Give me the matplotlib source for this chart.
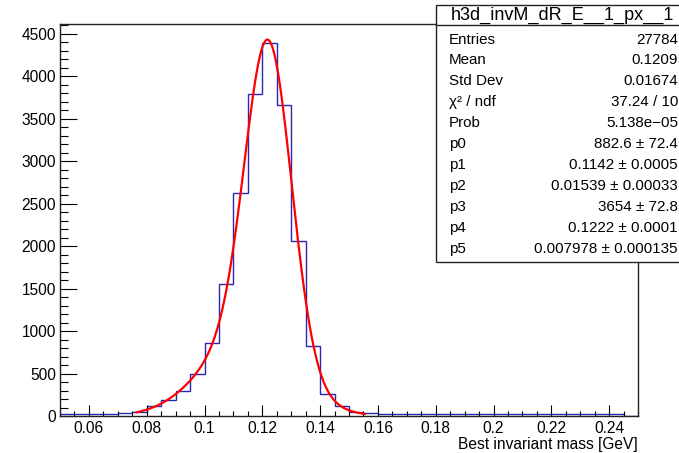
import numpy as np
import matplotlib
matplotlib.use("Agg")
import matplotlib.pyplot as plt
from matplotlib.patches import Rectangle
from matplotlib.ticker import MultipleLocator, FuncFormatter

plt.rcParams['font.family'] = ['Liberation Sans', 'DejaVu Sans']

# ---- data ----
bin_lo = 0.05
bin_hi = 0.25
bin_width = 0.005
counts = [20, 20, 20, 22, 40, 45, 112, 185, 292, 494,
          863, 1553, 2625, 3790, 4395, 3660, 2063, 820, 259, 120,
          45, 30, 28, 27, 26, 25, 25, 24, 24, 23,
          23, 22, 22, 21, 21, 21, 20, 20, 20, 0]

fit_params = [882.6, 0.1142, 0.01539, 3654, 0.1222, 0.007978]
fit_range = (0.0765, 0.1555)

stats_title = "h3d_invM_dR_E__1_px__1"
stats_names = ["Entries", "Mean", "Std Dev", "χ² / ndf", "Prob",
               "p0", "p1", "p2", "p3", "p4", "p5"]
stats_values = ["27784", "0.1209", "0.01674", "37.24 / 10", "5.138e\u221205",
                "882.6 ± 72.4", "0.1142 ± 0.0005", "0.01539 ± 0.00033",
                "3654 ± 72.8", "0.1222 ± 0.0001", "0.007978 ± 0.000135"]

xlabel = "Best invariant mass [GeV]"

# ---- figure ----
W, H = 679, 453
fig = plt.figure(figsize=(W / 100, H / 100), dpi=100)
fig.patch.set_facecolor('white')

def fx(px):
    return px / W

def fy(py):
    return 1 - py / H

ax_l, ax_r, ax_t, ax_b = 60, 638, 24, 416
ax = fig.add_axes([fx(ax_l), fy(ax_b), fx(ax_r) - fx(ax_l), fy(ax_t) - fy(ax_b)])

edges = bin_lo + bin_width * np.arange(len(counts) + 1)
ax.stairs(counts, edges, color='#2828b4', linewidth=1.0, baseline=0)

p0, p1, p2, p3, p4, p5 = fit_params
xf = np.linspace(fit_range[0], fit_range[1], 400)
yf = p0 * np.exp(-0.5 * ((xf - p1) / p2) ** 2) + p3 * np.exp(-0.5 * ((xf - p4) / p5) ** 2)
ax.plot(xf, yf, color='red', linewidth=1.6)

ax.set_xlim(bin_lo, bin_hi)
ax.set_ylim(0, 1.05 * max(counts))

ax.xaxis.set_major_locator(MultipleLocator(0.02))
ax.xaxis.set_minor_locator(MultipleLocator(0.005))
ax.yaxis.set_major_locator(MultipleLocator(500))
ax.yaxis.set_minor_locator(MultipleLocator(100))
ax.xaxis.set_major_formatter(FuncFormatter(lambda v, p: ('%g' % round(v, 4)) if v > 0.055 else ''))
ax.yaxis.set_major_formatter(FuncFormatter(lambda v, p: '%d' % round(v)))

ax.tick_params(axis='both', which='both', direction='in', top=False, right=False,
               labelsize=11.2, colors='black', width=0.8)
ax.tick_params(axis='x', which='major', length=8, pad=3.5)
ax.tick_params(axis='x', which='minor', length=3.8)
ax.tick_params(axis='y', which='major', length=12, pad=3)
ax.tick_params(axis='y', which='minor', length=6)
for s in ax.spines.values():
    s.set_linewidth(1.0)
    s.set_color('#222222')

fig.text(fx(638), fy(449), xlabel, ha='right', va='baseline', fontsize=11.2)

# ---- stats box ----
box_l, box_t, box_b, box_r = 436, 5, 262, 720
fig.patches.append(Rectangle((fx(box_l), fy(box_b)), fx(box_r) - fx(box_l), fy(box_t) - fy(box_b),
                             transform=fig.transFigure, facecolor='white', edgecolor='#222222',
                             linewidth=1.0, zorder=5))
fig.add_artist(plt.Line2D([fx(box_l), fx(box_r)], [fy(25), fy(25)], transform=fig.transFigure,
                          color='#222222', linewidth=1.0, zorder=6))
fig.text(fx(451), fy(15), stats_title, ha='left', va='center', fontsize=13.0, zorder=7)
row0, dy = 39.5, 20.95
for i, (n, v) in enumerate(zip(stats_names, stats_values)):
    y = row0 + i * dy
    fig.text(fx(449), fy(y), n, ha='left', va='center', fontsize=10.9, zorder=7)
    fig.text(fx(678), fy(y), v, ha='right', va='center', fontsize=10.9, zorder=7)

fig.savefig('out.png', dpi=100)
